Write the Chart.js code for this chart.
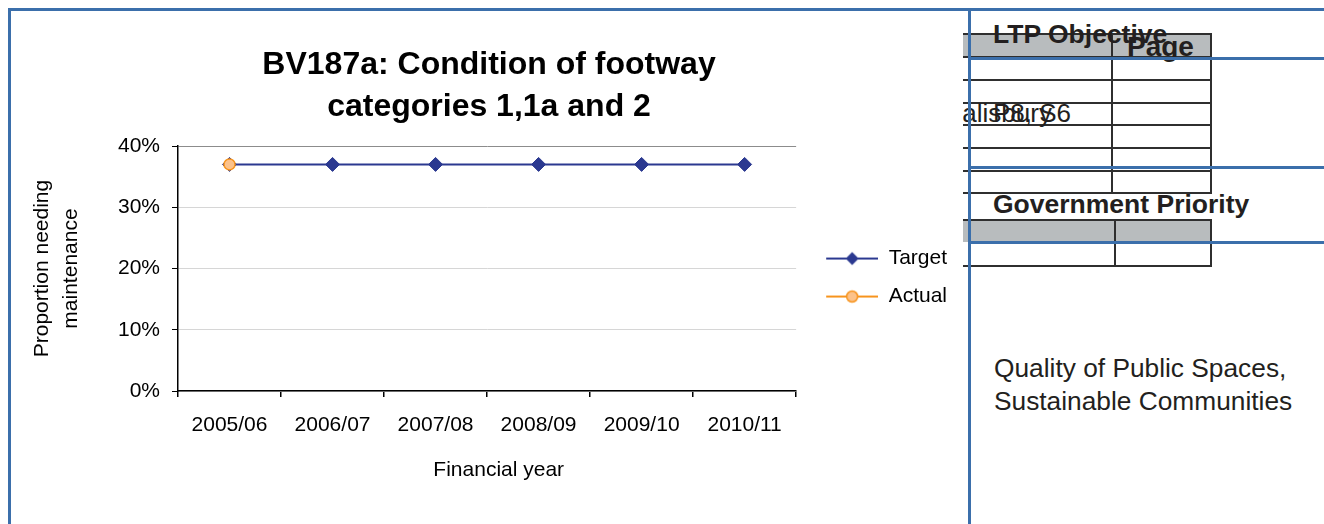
<!DOCTYPE html>
<html>
<head>
<meta charset="utf-8">
<script src="https://cdn.jsdelivr.net/npm/chart.js@4/dist/chart.umd.min.js"></script>
<style>
  html, body { margin: 0; padding: 0; background: #fff; }
  body { width: 1324px; height: 524px; position: relative; overflow: hidden; font-family: "Liberation Sans", Arial, sans-serif; color: #231f20; }
  .blue { position: absolute; background: #3b6fab; z-index: 10; }
  .rule { position: absolute; background: #2f2f2f; z-index: 3; }
  .gray { position: absolute; background: #b8bcbe; z-index: 2; }
  .txt { position: absolute; line-height: 1; white-space: nowrap; z-index: 4; }
  #chartWrap { position: absolute; left: 11px; top: 11px; width: 952px; height: 513px; background: #fff; z-index: 6; }
</style>
</head>
<body>
<!-- right-hand tables -->
<div class="gray" style="left:960px;top:34px;width:251px;height:23px;"></div>
<div class="rule" style="left:960px;top:33px;width:252px;height:2px;"></div>
<div class="rule" style="left:960px;top:56px;width:252px;height:2px;"></div>
<div class="rule" style="left:960px;top:79px;width:252px;height:2px;"></div>
<div class="rule" style="left:960px;top:102px;width:252px;height:2px;"></div>
<div class="rule" style="left:960px;top:124px;width:252px;height:2px;"></div>
<div class="rule" style="left:960px;top:147px;width:252px;height:2px;"></div>
<div class="rule" style="left:960px;top:170px;width:252px;height:2px;"></div>
<div class="rule" style="left:960px;top:192px;width:252px;height:2px;"></div>
<div class="rule" style="left:1111px;top:33px;width:2px;height:161px;"></div>
<div class="rule" style="left:1210px;top:33px;width:2px;height:161px;"></div>

<div class="gray" style="left:960px;top:220px;width:251px;height:22px;"></div>
<div class="rule" style="left:960px;top:219px;width:252px;height:2px;"></div>
<div class="rule" style="left:960px;top:265px;width:252px;height:2px;"></div>
<div class="rule" style="left:1114px;top:219px;width:2px;height:48px;"></div>
<div class="rule" style="left:1210px;top:219px;width:2px;height:48px;"></div>

<div class="txt" style="left:993px;top:20.6px;font-size:26.5px;font-weight:bold;">LTP Objective</div>
<div class="txt" style="left:1127px;top:33.3px;font-size:28px;font-weight:bold;">Page</div>
<div class="txt" style="left:945px;top:100px;font-size:26px;">Salisbury</div>
<div class="txt" style="left:993px;top:100px;font-size:26px;">P8, S6</div>
<div class="txt" style="left:993px;top:190.6px;font-size:26.5px;font-weight:bold;">Government Priority</div>
<div class="txt" style="left:994px;top:354.7px;font-size:26.3px;">Quality of Public Spaces,</div>
<div class="txt" style="left:994px;top:387.7px;font-size:26.3px;">Sustainable Communities</div>

<!-- blue frame -->
<div class="blue" style="left:8px;top:8px;width:1316px;height:3px;"></div>
<div class="blue" style="left:8px;top:8px;width:3px;height:516px;"></div>
<div class="blue" style="left:968px;top:8px;width:3px;height:516px;"></div>
<div class="blue" style="left:968px;top:57px;width:356px;height:3px;"></div>
<div class="blue" style="left:968px;top:166px;width:356px;height:3px;"></div>
<div class="blue" style="left:968px;top:241px;width:356px;height:3px;"></div>

<div id="chartWrap"><canvas id="c" width="952" height="513"></canvas></div>

<script>
// ---- data ----
const categories = ["2005/06", "2006/07", "2007/08", "2008/09", "2009/10", "2010/11"];
const targetValues = [37, 37, 37, 37, 37, 37];
const actualValues = [37, null, null, null, null, null];
const yTickValues = [0, 10, 20, 30, 40];
const chartTitle = ["BV187a: Condition of footway", "categories 1,1a and 2"];
const yTitle = ["Proportion needing", "maintenance"];
const xTitle = "Financial year";

const FONT = '"Liberation Sans", Arial, sans-serif';
const navy = '#2b3990';
const orange = '#f7941d';
const orangeFill = '#fcc28a';

function legendIcon(kind) {
  const c = document.createElement('canvas');
  c.width = 65; c.height = 16;
  const g = c.getContext('2d');
  const col = kind === 'target' ? navy : orange;
  g.strokeStyle = col; g.lineWidth = 2;
  g.beginPath(); g.moveTo(13, 8); g.lineTo(65, 8); g.stroke();
  const cx = 39, cy = 8;
  if (kind === 'target') {
    g.fillStyle = navy;
    g.beginPath(); g.moveTo(cx, cy - 6.5); g.lineTo(cx + 6.5, cy); g.lineTo(cx, cy + 6.5); g.lineTo(cx - 6.5, cy); g.closePath(); g.fill();
  } else {
    g.fillStyle = orangeFill; g.lineWidth = 1.5;
    g.beginPath(); g.arc(cx, cy, 5.5, 0, Math.PI * 2); g.fill(); g.stroke();
  }
  return c;
}
const icons = { target: legendIcon('target'), actual: legendIcon('actual') };

// shift the x-axis title right to match the reference's offset centring
const xTitlePadded = '    ' + xTitle;

new Chart(document.getElementById('c'), {
  type: 'line',
  data: {
    labels: categories,
    datasets: [
      {
        label: 'Target', data: targetValues, borderColor: navy, backgroundColor: navy,
        borderWidth: 2, pointStyle: 'rectRot', pointRadius: 7, pointBackgroundColor: navy,
        pointBorderColor: navy, pointBorderWidth: 1, tension: 0, order: 0, _icon: 'target'
      },
      {
        label: 'Actual', data: actualValues, borderColor: orange, backgroundColor: orangeFill,
        borderWidth: 2, pointStyle: 'circle', pointRadius: 5.5, pointBackgroundColor: orangeFill,
        pointBorderColor: orange, pointBorderWidth: 1.5, tension: 0, order: -1, _icon: 'actual'
      }
    ]
  },
  options: {
    responsive: false,
    animation: false,
    layout: { padding: { left: 10, right: 6, top: 0, bottom: 0 } },
    plugins: {
      tooltip: { enabled: false },
      title: {
        display: true, text: chartTitle, color: '#000',
        font: { family: FONT, size: 32, weight: 'bold', lineHeight: 1.31 },
        padding: { top: 33.2, bottom: 18 }
      },
      legend: {
        display: true, position: 'right', align: 'center', fullSize: false,
        title: { display: true, text: ' ', font: { family: FONT, size: 10, lineHeight: 1.2 }, padding: { top: 0, bottom: 6 } },
        labels: {
          usePointStyle: true, pointStyleWidth: 65, boxHeight: 16, padding: 17,
          color: '#000', font: { family: FONT, size: 21 },
          generateLabels: (chart) => chart.data.datasets.map((ds, i) => ({
            text: ds.label, fillStyle: ds.borderColor, strokeStyle: ds.borderColor,
            lineWidth: 0, pointStyle: icons[ds._icon], hidden: false, datasetIndex: i, fontColor: '#000'
          }))
        }
      }
    },
    scales: {
      x: {
        type: 'category', offset: true,
        afterFit: (s) => { s.height = 133; },
        border: { display: true, color: '#000', width: 1.5 },
        grid: {
          offset: true, drawOnChartArea: true, drawTicks: true, tickLength: 6,
          color: (ctx) => (ctx.index === categories.length ? '#8c8c8c' : 'rgba(0,0,0,0)'),
          tickColor: '#000', lineWidth: 1.5
        },
        ticks: { color: '#000', font: { family: FONT, size: 21 }, padding: 16, maxRotation: 0, autoSkip: false },
        title: {
          display: true, text: xTitlePadded, color: '#000',
          font: { family: FONT, size: 21, lineHeight: 1.2 }, padding: { top: 0, bottom: 41.4 }
        }
      },
      y: {
        min: 0, max: 40,
        afterFit: (s) => { s.width = 157; },
        afterBuildTicks: (s) => { s.ticks = yTickValues.map(v => ({ value: v })); },
        border: { display: true, color: '#000', width: 1.5 },
        grid: {
          drawTicks: true, tickLength: 6, lineWidth: 1,
          color: (ctx) => (ctx.tick && ctx.tick.value === 40 ? '#8c8c8c' : '#d6d6d6'),
          tickColor: '#000'
        },
        ticks: { color: '#000', font: { family: FONT, size: 21 }, padding: 12, callback: (v) => v + '%' },
        title: {
          display: true, text: yTitle, color: '#000',
          font: { family: FONT, size: 21, lineHeight: 1.38 }, padding: { top: 6.5, bottom: 0 }
        }
      }
    }
  }
});
</script>
</body>
</html>
